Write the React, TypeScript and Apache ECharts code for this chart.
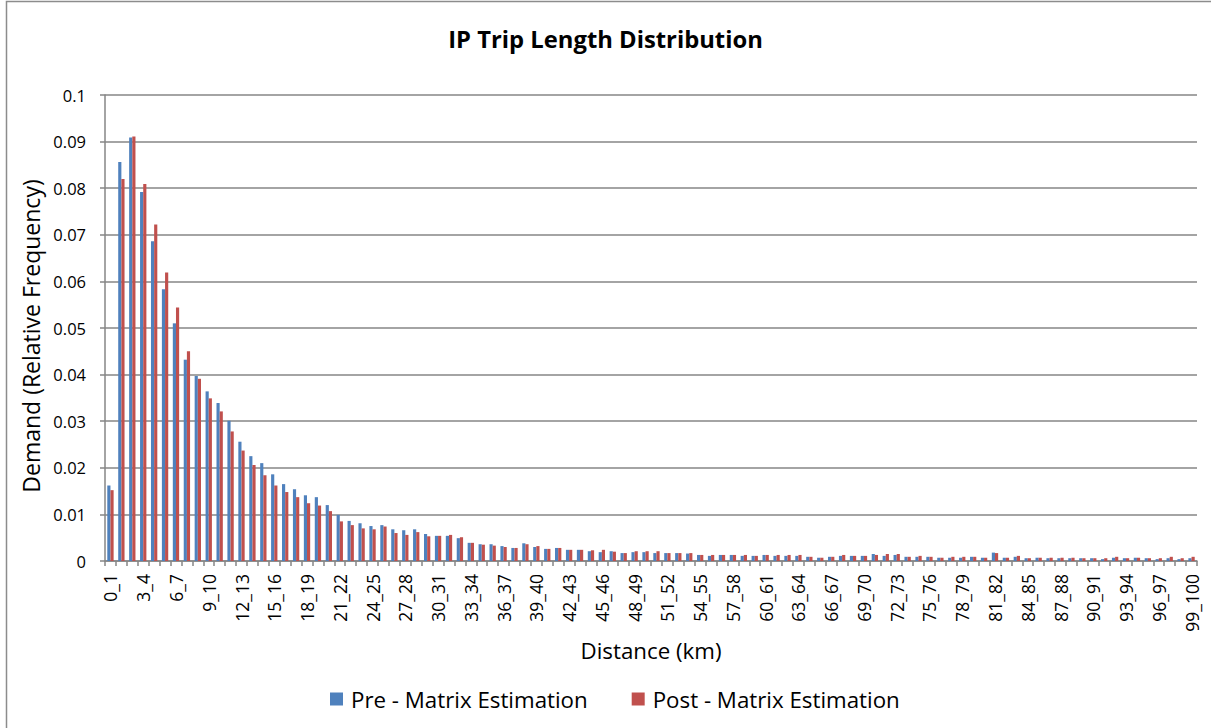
import React, { useEffect, useRef } from "react";
import * as echarts from "echarts";

// Distance bands 0_1 ... 99_100 (km)
const distanceBands: string[] = Array.from({ length: 100 }, (_, i) => `${i}_${i + 1}`);

// Relative frequency of demand per distance band, before matrix estimation
const preMatrix: number[] = [
  0.0162, 0.0856, 0.0909, 0.0792, 0.0686, 0.0583, 0.0510, 0.0432, 0.0397, 0.0364,
  0.0339, 0.0301, 0.0256, 0.0225, 0.0210, 0.0186, 0.0165, 0.0154, 0.0141, 0.0137,
  0.0120, 0.0099, 0.0086, 0.0081, 0.0075, 0.0077, 0.0068, 0.0066, 0.0068, 0.0058,
  0.0054, 0.0054, 0.0049, 0.0039, 0.0036, 0.0036, 0.0032, 0.0028, 0.0038, 0.0030,
  0.0026, 0.0028, 0.0024, 0.0024, 0.0021, 0.0019, 0.0021, 0.0017, 0.0019, 0.0019,
  0.0017, 0.0017, 0.0017, 0.0016, 0.0013, 0.0011, 0.0013, 0.0013, 0.0011, 0.0011,
  0.0013, 0.0011, 0.0011, 0.0011, 0.0009, 0.0007, 0.0009, 0.0011, 0.0011, 0.0011,
  0.0015, 0.0011, 0.0013, 0.0009, 0.0009, 0.0009, 0.0007, 0.0007, 0.0007, 0.0009,
  0.0007, 0.0018, 0.0007, 0.0009, 0.0006, 0.0007, 0.0006, 0.0006, 0.0006, 0.0006,
  0.0006, 0.0004, 0.0007, 0.0006, 0.0007, 0.0006, 0.0004, 0.0006, 0.0004, 0.0006,
];

// Relative frequency of demand per distance band, after matrix estimation
const postMatrix: number[] = [
  0.0152, 0.0820, 0.0911, 0.0809, 0.0722, 0.0619, 0.0544, 0.0450, 0.0391, 0.0349,
  0.0321, 0.0278, 0.0237, 0.0206, 0.0184, 0.0162, 0.0148, 0.0137, 0.0124, 0.0119,
  0.0107, 0.0085, 0.0077, 0.0070, 0.0068, 0.0074, 0.0060, 0.0056, 0.0062, 0.0053,
  0.0054, 0.0056, 0.0051, 0.0039, 0.0035, 0.0033, 0.0030, 0.0028, 0.0036, 0.0032,
  0.0026, 0.0028, 0.0024, 0.0024, 0.0023, 0.0024, 0.0020, 0.0017, 0.0021, 0.0021,
  0.0021, 0.0017, 0.0017, 0.0017, 0.0013, 0.0013, 0.0013, 0.0013, 0.0013, 0.0011,
  0.0013, 0.0013, 0.0013, 0.0013, 0.0009, 0.0007, 0.0009, 0.0013, 0.0011, 0.0011,
  0.0013, 0.0015, 0.0015, 0.0009, 0.0011, 0.0009, 0.0007, 0.0009, 0.0009, 0.0009,
  0.0007, 0.0017, 0.0007, 0.0011, 0.0006, 0.0007, 0.0007, 0.0007, 0.0007, 0.0006,
  0.0006, 0.0006, 0.0009, 0.0006, 0.0007, 0.0006, 0.0006, 0.0009, 0.0006, 0.0009,
];

const seriesNames: string[] = ["Pre - Matrix Estimation", "Post - Matrix Estimation"];
const seriesColors: string[] = ["#4F81BD", "#C0504D"];

const FONT = "'Open Sans', 'Noto Sans', sans-serif";

export default function App() {
  const ref = useRef<HTMLDivElement>(null);

  useEffect(() => {
    if (!ref.current) return;
    const chart = echarts.init(ref.current, null, { renderer: "svg" });
    chart.setOption({
      animation: false,
      backgroundColor: "#ffffff",
      textStyle: { fontFamily: FONT, color: "#000" },
      title: {
        text: "IP Trip Length Distribution",
        left: "center",
        top: 22,
        textStyle: { fontFamily: FONT, fontSize: 23.8, fontWeight: "bold", color: "#000" },
      },
      graphic: [
        {
          type: "rect",
          shape: { x: 6.5, y: 1.5, width: 1220, height: 740 },
          style: { fill: "none", stroke: "#8c8c8c", lineWidth: 1.5 },
          silent: true,
        },
        {
          // value axis title, rotated to read bottom-to-top
          type: "text",
          x: 31,
          y: 336,
          rotation: Math.PI / 2,
          silent: true,
          style: {
            text: "Demand (Relative Frequency)",
            fontFamily: FONT,
            fontSize: 23,
            fill: "#000",
            align: "center",
            verticalAlign: "middle",
          },
        },
      ],
      legend: {
        top: 683,
        left: 325,
        itemWidth: 13,
        itemHeight: 13,
        itemGap: 44,
        icon: "rect",
        textStyle: { fontFamily: FONT, fontSize: 22.3, color: "#000", padding: [0, 0, 0, 3] },
        data: seriesNames,
      },
      grid: { left: 105, right: 14, top: 95, bottom: 167, containLabel: false },
      xAxis: {
        type: "category",
        data: distanceBands,
        name: "Distance (km)",
        nameLocation: "middle",
        nameGap: 77,
        nameTextStyle: { fontFamily: FONT, fontSize: 22.3, color: "#000" },
        axisLine: { lineStyle: { color: "#868686", width: 1.5 } },
        axisTick: { show: true, interval: 0, length: 5, lineStyle: { color: "#868686", width: 1.5 } },
        axisLabel: {
          interval: 2,
          rotate: 90,
          margin: 13,
          fontFamily: FONT,
          fontSize: 17.5,
          color: "#000",
        },
      },
      yAxis: {
        type: "value",
        min: 0,
        max: 0.1,
        interval: 0.01,
        axisLine: { show: true, lineStyle: { color: "#868686", width: 1.5 } },
        axisTick: { show: true, length: 5, lineStyle: { color: "#868686", width: 1.5 } },
        splitLine: { lineStyle: { color: "#868686", width: 1.5 } },
        axisLabel: {
          margin: 19,
          fontFamily: FONT,
          fontSize: 16.5,
          color: "#000",
          formatter: (v: number) => String(Math.round(v * 100) / 100),
        },
      },
      series: [
        {
          name: seriesNames[0],
          type: "bar",
          data: preMatrix,
          itemStyle: { color: seriesColors[0] },
          barGap: "0%",
          barCategoryGap: "42%",
        },
        {
          name: seriesNames[1],
          type: "bar",
          data: postMatrix,
          itemStyle: { color: seriesColors[1] },
          barGap: "0%",
          barCategoryGap: "42%",
        },
      ],
    });
    return () => chart.dispose();
  }, []);

  return (
    <div
      ref={ref}
      style={{ position: "fixed", left: 0, top: 0, width: 1211, height: 728 }}
    />
  );
}
